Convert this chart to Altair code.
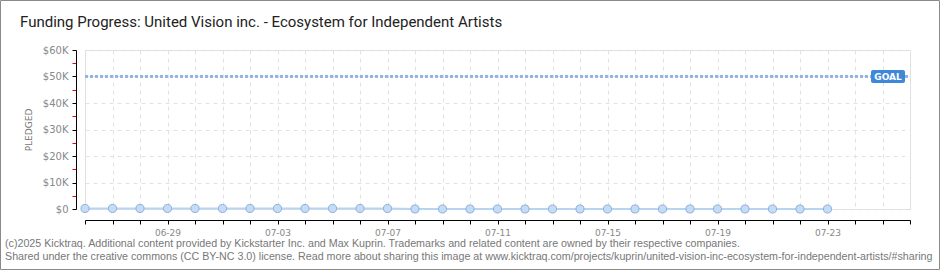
import altair as alt
import pandas as pd
from datetime import datetime, timezone

# ---- data ----
dates = ["2025-06-26", "2025-06-27", "2025-06-28", "2025-06-29", "2025-06-30",
         "2025-07-01", "2025-07-02", "2025-07-03", "2025-07-04", "2025-07-05",
         "2025-07-06", "2025-07-07", "2025-07-08", "2025-07-09", "2025-07-10",
         "2025-07-11", "2025-07-12", "2025-07-13", "2025-07-14", "2025-07-15",
         "2025-07-16", "2025-07-17", "2025-07-18", "2025-07-19", "2025-07-20",
         "2025-07-21", "2025-07-22", "2025-07-23"]
pledged = [200, 200, 200, 200, 200, 200, 200, 200, 200, 200, 200, 200,
           0, 0, 0, 0, 0, 0, 0, 0, 0, 0, 0, 0, 0, 0, 0, 0]
goal = 50000
y_ticks = [0, 5000, 10000, 15000, 20000, 25000, 30000, 35000, 40000, 45000, 50000, 55000, 60000]
x_labels = ["06-29", "07-03", "07-07", "07-11", "07-15", "07-19", "07-23"]
title_text = "Funding Progress: United Vision inc. - Ecosystem for Independent Artists"
footer_line1 = "(c)2025 Kicktraq. Additional content provided by Kickstarter Inc. and Max Kuprin. Trademarks and related content are owned by their respective companies."
footer_line2 = "Shared under the creative commons (CC BY-NC 3.0) license. Read more about sharing this image at www.kicktraq.com/projects/kuprin/united-vision-inc-ecosystem-for-independent-artists/#sharing"
y_title = "PLEDGED"
goal_label = "GOAL"

df = pd.DataFrame({"date": dates, "pledged": pledged})

DAY = 86400000
start_ms = int(datetime(2025, 6, 26, tzinfo=timezone.utc).timestamp() * 1000)
end_ms = int(datetime(2025, 7, 26, tzinfo=timezone.utc).timestamp() * 1000)
x_tick_values = list(range(start_ms, end_ms + 1, DAY))

W, H = 825, 159
FONT = "DejaVu Sans"
label_list = "[" + ",".join(f"'{s}'" for s in x_labels) + "]"

x_enc = alt.X(
    "date:T",
    scale=alt.Scale(type="utc", domain=[start_ms, end_ms]),
    axis=alt.Axis(
        values=x_tick_values,
        labelExpr=f"indexof({label_list}, utcFormat(datum.value, '%m-%d')) >= 0 ? utcFormat(datum.value, '%m-%d') : ''",
        title=None,
        offset=11,
        domainColor="black",
        tickColor="black",
        tickSize=4,
        labelColor="#888888",
        labelFont=FONT,
        labelFontSize=9,
        labelPadding=4,
        grid=True,
        gridDash=[4, 4],
        gridColor="#e2e2e2",
        labelOverlap=False,
    ),
)

y_enc = alt.Y(
    "pledged:Q",
    scale=alt.Scale(domain=[0, 60000], nice=False),
    axis=alt.Axis(
        values=y_ticks,
        labelExpr="datum.value % 10000 != 0 ? '' : (datum.value == 0 ? '$0' : '$' + datum.value / 1000 + 'K')",
        title=y_title,
        titleFont=FONT,
        titleFontSize=9,
        titleFontWeight="normal",
        titleColor="#777777",
        titlePadding=9,
        offset=9,
        domainColor="black",
        tickColor={"condition": {"test": "datum.value % 10000 != 0", "value": "#ee0000"}, "value": "black"},
        tickSize=4,
        labelColor="#888888",
        labelFont=FONT,
        labelFontSize=10,
        labelPadding=4,
        grid=True,
        gridDash=[4, 4],
        gridColor="#e2e2e2",
        gridOpacity={"condition": {"test": "datum.value % 10000 != 0", "value": 0}, "value": 1},
        labelOverlap=False,
    ),
)

base = alt.Chart(df)

line = base.mark_line(color="#b7d4f2", strokeWidth=2).encode(x=x_enc, y=y_enc)
points = base.mark_circle(size=65, color="#c4dcf6", stroke="#8fb0d8", strokeWidth=1, opacity=1).encode(
    x=x_enc, y=y_enc
)

goal_df = pd.DataFrame({"pledged": [goal], "label": [goal_label]})
goal_rule = alt.Chart(goal_df).mark_rule(color="#93b5e2", strokeWidth=3, strokeDash=[3, 2]).encode(
    y=y_enc, x=alt.value(0), x2=alt.value(W - 2)
)
goal_box = alt.Chart(goal_df).mark_rect(color="#3f87d8", cornerRadius=2).encode(
    x=alt.value(786), x2=alt.value(820), y=alt.value(20), y2=alt.value(33)
)
goal_text = alt.Chart(goal_df).mark_text(
    color="white", font=FONT, fontSize=9, fontWeight="bold", align="center", baseline="middle"
).encode(x=alt.value(803), y=alt.value(27), text="label:N")

title_df = pd.DataFrame({"t": [title_text]})
title = alt.Chart(title_df).mark_text(
    align="left", baseline="middle", font="Roboto", fontSize=15, color="#222222"
).encode(x=alt.value(-65), y=alt.value(-28), text="t:N")

f1_df = pd.DataFrame({"t": [footer_line1]})
f2_df = pd.DataFrame({"t": [footer_line2]})
footer1 = alt.Chart(f1_df).mark_text(
    align="left", baseline="middle", font="Liberation Sans", fontSize=10.7, color="#777777"
).encode(x=alt.value(-80), y=alt.value(193.5), text="t:N")
footer2 = alt.Chart(f2_df).mark_text(
    align="left", baseline="middle", font="Liberation Sans", fontSize=10.7, color="#777777"
).encode(x=alt.value(-80), y=alt.value(206.5), text="t:N")

border_df = pd.DataFrame({"k": [0]})
border = alt.Chart(border_df).mark_rect(fillOpacity=0, stroke="#8a8a8a", strokeWidth=1).encode(
    x=alt.value(-84.5), x2=alt.value(854.5), y=alt.value(-49.5), y2=alt.value(219.5)
)

chart = alt.layer(line, goal_rule, points, goal_box, goal_text, title, footer1, footer2, border).properties(
    width=W,
    height=H,
    padding={"left": 85, "top": 50, "right": 30, "bottom": 61},
    autosize=alt.AutoSizeParams(type="none"),
).configure_view(stroke=None).configure(background="white")

chart.save("out.html", embed_options={"renderer": "svg", "actions": False})
